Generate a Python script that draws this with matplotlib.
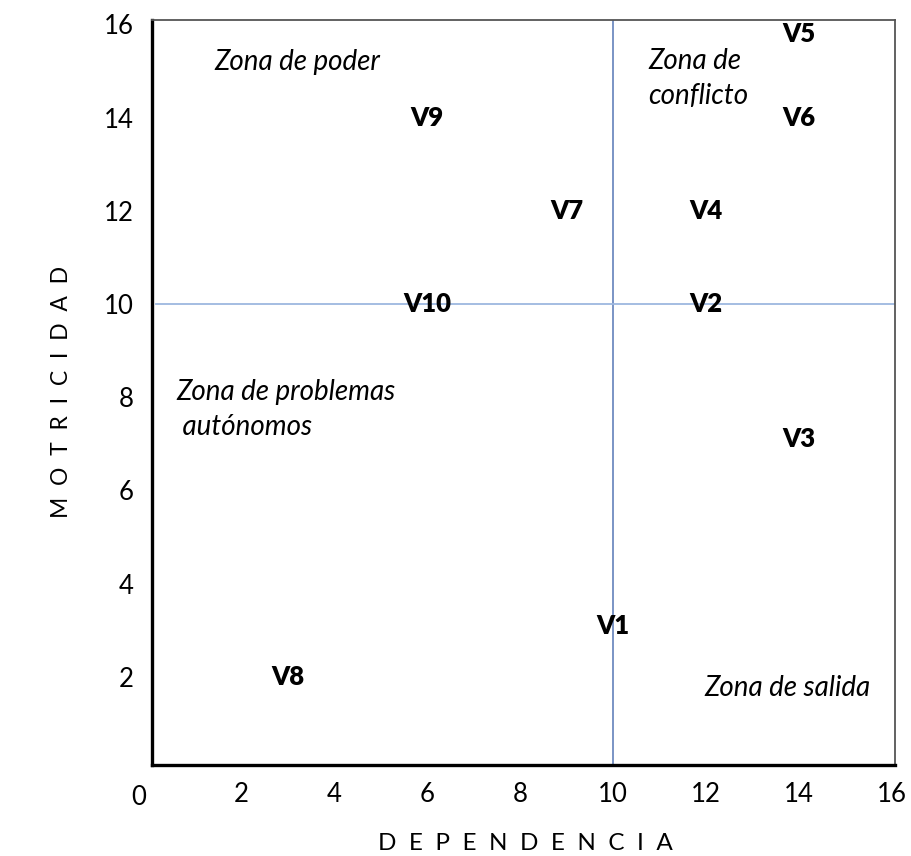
import matplotlib.pyplot as plt

# Variables (dependencia, motricidad)
labels = ['V1', 'V2', 'V3', 'V4', 'V5', 'V6', 'V7', 'V8', 'V9', 'V10']
dependencia = [10, 12, 14, 12, 14, 14, 9, 3, 6, 6]
motricidad = [3.1, 10, 7.1, 12, 15.8, 14, 12, 2, 14, 10]

ticks = [2, 4, 6, 8, 10, 12, 14, 16]
corte_x = 10
corte_y = 10

zonas = [
    ('Zona de poder', 3.2, 15.2, 'center'),
    ('Zona de\nconflicto', 10.75, 14.84, 'left'),
    ('Zona de problemas\n autónomos', 0.6, 7.74, 'left'),
    ('Zona de salida', 13.75, 1.75, 'center'),
]

plt.rcParams['font.family'] = ['Lato', 'DejaVu Sans']

fig = plt.figure(figsize=(9.11, 8.56), dpi=100)
W, H = 911, 856
# ejes: x 0->148px (46.5 px por unidad) ; y 0->770px (46.6 px por unidad)
x0, x1 = 152, 895
y0, y1 = 765, 20
ax = fig.add_axes([x0 / W, 1 - y0 / H, (x1 - x0) / W, (y0 - y1) / H])
ax.set_xlim((x0 - 148) / 46.5, (x1 - 148) / 46.5)
ax.set_ylim((770 - y0) / 46.6, (770 - y1) / 46.6)

for s in ['left', 'bottom']:
    ax.spines[s].set_linewidth(2.4)
    ax.spines[s].set_color('black')
for s in ['top', 'right']:
    ax.spines[s].set_linewidth(1.3)
    ax.spines[s].set_color('#555555')

ax.set_xticks(ticks)
ax.set_yticks(ticks)
ax.tick_params(length=0, labelsize=18.5)
ax.tick_params(axis='x', pad=12)
ax.tick_params(axis='y', pad=13)
ax.text(-0.2, -0.6, '0', fontsize=18.5, ha='center', va='center', clip_on=False)

# lineas de corte
ax.axvline(corte_x, color='#6F8BC0', lw=1.3)
ax.axhline(corte_y, xmin=0.006, color='#9DB7DF', lw=1.3)

for lab, xv, yv in zip(labels, dependencia, motricidad):
    ax.text(xv, yv, lab, fontsize=18.5, fontweight='heavy', ha='center', va='center')

for txt, xv, yv, ha in zonas:
    ax.text(xv, yv, txt, fontsize=20, style='italic', ha=ha, va='center', linespacing=1.4)

fig.text(525 / W, 1 - 843 / H, '  '.join('DEPENDENCIA'), fontsize=17.5, ha='center', va='center')
fig.text(62 / W, 1 - 392 / H, '  '.join('MOTRICIDAD'), fontsize=16.5, ha='center', va='center', rotation=90)

fig.savefig('out.png', dpi=100)
